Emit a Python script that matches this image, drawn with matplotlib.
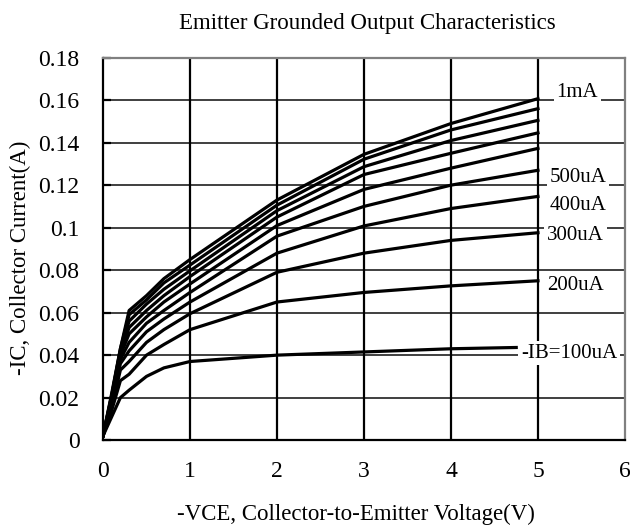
import numpy as np
import matplotlib
matplotlib.use("Agg")
import matplotlib.pyplot as plt

plt.rcParams['font.family'] = ['Liberation Serif', 'DejaVu Serif']

# -VCE sample points (V)
vce = [0, 0.1, 0.2, 0.3, 0.5, 0.7, 1, 2, 3, 4, 5]
vce_100 = [0, 0.1, 0.2, 0.3, 0.5, 0.7, 1, 2, 3, 4, 4.75]

# -IC (A) for each base current
ic_100 = [0.002, 0.011, 0.020, 0.0235, 0.030, 0.034, 0.037, 0.040, 0.0415, 0.043, 0.0436]
ic_200 = [0.002, 0.014, 0.028, 0.031, 0.040, 0.045, 0.052, 0.065, 0.0695, 0.0726, 0.075]
ic_300 = [0.002, 0.016, 0.033, 0.037, 0.046, 0.052, 0.0595, 0.079, 0.088, 0.094, 0.0976]
ic_400 = [0.002, 0.017, 0.036, 0.042, 0.051, 0.057, 0.065, 0.088, 0.1008, 0.109, 0.1147]
ic_500 = [0.002, 0.018, 0.038, 0.046, 0.055, 0.061, 0.0695, 0.096, 0.110, 0.120, 0.127]
ic_600 = [0.002, 0.019, 0.040, 0.050, 0.058, 0.065, 0.0735, 0.101, 0.118, 0.128, 0.1373]
ic_700 = [0.002, 0.020, 0.041, 0.053, 0.061, 0.068, 0.077, 0.105, 0.125, 0.135, 0.1446]
ic_800 = [0.002, 0.021, 0.042, 0.056, 0.064, 0.071, 0.0797, 0.108, 0.1287, 0.141, 0.1505]
ic_900 = [0.002, 0.021, 0.043, 0.059, 0.066, 0.074, 0.0824, 0.1106, 0.1322, 0.146, 0.156]
ic_1000 = [0.002, 0.022, 0.043, 0.061, 0.068, 0.076, 0.085, 0.113, 0.1345, 0.149, 0.1607]

curve_labels = ['1mA', '500uA', '400uA', '300uA', '200uA', '-IB=100uA']
label_x = [5.45, 5.46, 5.46, 5.43, 5.43, 5.36]
label_y = [0.1638, 0.1238, 0.1106, 0.0965, 0.073, 0.041]

y_ticks = [0, 0.02, 0.04, 0.06, 0.08, 0.1, 0.12, 0.14, 0.16, 0.18]
y_ticklabels = ['0', '0.02', '0.04', '0.06', '0.08', '0.1', '0.12', '0.14', '0.16', '0.18']
x_ticks = [0, 1, 2, 3, 4, 5, 6]

fig = plt.figure(figsize=(6.3, 5.29), dpi=100)
ax = fig.add_axes([0.1635, 0.168, 0.8285, 0.723])

# grid
for yv in y_ticks[1:-1]:
    ax.axhline(yv, color='#303030', lw=1.3, zorder=1)
for xv in x_ticks[1:-1]:
    ax.axvline(xv, color='black', lw=1.6, zorder=1)

ax.plot(vce_100, ic_100, color='black', lw=2.3, zorder=3)
for ic in [ic_200, ic_300, ic_400, ic_500, ic_600, ic_700, ic_800, ic_900, ic_1000]:
    ax.plot(vce, ic, color='black', lw=2.3, zorder=3)

for txt, lx, ly in zip(curve_labels, label_x, label_y):
    ax.text(lx, ly, txt, fontsize=15, ha='center', va='center', zorder=5,
            bbox=dict(facecolor='white', edgecolor='none', pad=2))

ax.set_xlim(0, 6)
ax.set_ylim(0, 0.18)
ax.set_xticks(x_ticks)
ax.set_yticks(y_ticks)
ax.set_yticklabels(y_ticklabels)
ax.tick_params(axis='x', length=0, pad=15, labelsize=17)
ax.tick_params(axis='y', direction='in', length=6, width=1.6, pad=17, labelsize=17)

ax.spines['left'].set_linewidth(1.6)
ax.spines['bottom'].set_linewidth(1.6)
ax.spines['top'].set_color('#808080')
ax.spines['top'].set_linewidth(1.6)
ax.spines['right'].set_color('#808080')
ax.spines['right'].set_linewidth(1.6)

fig.text(367 / 630, 1 - 23 / 529, 'Emitter Grounded Output Characteristics',
         ha='center', va='center', fontsize=16.5)
fig.text(356 / 630, 1 - 514 / 529, '-VCE, Collector-to-Emitter Voltage(V)',
         ha='center', va='center', fontsize=16.5)
fig.text(20 / 630, 1 - 258 / 529, '-IC, Collector Current(A)',
         ha='center', va='center', rotation=90, fontsize=16.5)

fig.savefig('out.png', dpi=100)
